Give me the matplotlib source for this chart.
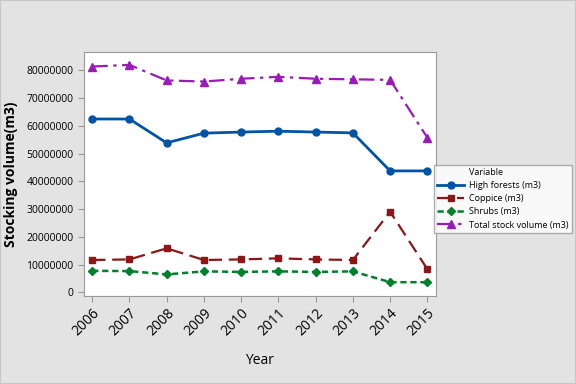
import matplotlib
matplotlib.use('Agg')
import matplotlib.pyplot as plt
from matplotlib.patches import Rectangle

years = [2006, 2007, 2008, 2009, 2010, 2011, 2012, 2013, 2014, 2015]
high_forests = [62.5, 62.5, 53.9, 57.4, 57.8, 58.1, 57.8, 57.5, 43.8, 43.8]
coppice = [11.7, 11.9, 15.9, 11.7, 11.9, 12.3, 11.9, 11.7, 29.1, 8.4]
shrubs = [7.8, 7.7, 6.5, 7.6, 7.4, 7.6, 7.4, 7.6, 3.7, 3.7]
total = [81.4, 82.0, 76.4, 76.0, 77.0, 77.7, 77.0, 76.8, 76.6, 55.8]
yticks = [0, 10, 20, 30, 40, 50, 60, 70, 80]

plt.rcParams['font.family'] = ['Open Sans', 'DejaVu Sans']

M = 1e6
bg = '#e3e3e3'
fig = plt.figure(figsize=(5.76, 3.84), dpi=100, facecolor=bg)
fig.patches.append(Rectangle((0, 0), 1, 1, transform=fig.transFigure,
                             fill=False, edgecolor='#c6c6c6', linewidth=1.5))
ax = fig.add_axes([0.1458, 0.229, 0.611, 0.636])

# empty entry so the legend header lines up with the labels
ax.plot([], [], ' ', label='Variable')
ax.plot(years, [v * M for v in high_forests], color='#0054a6', lw=2,
        marker='o', ms=5, label='High forests (m3)')
ax.plot(years, [v * M for v in coppice], color='#8e1616', lw=1.6,
        ls=(0, (6, 3)), marker='s', ms=5, label='Coppice (m3)')
ax.plot(years, [v * M for v in shrubs], color='#00802b', lw=1.8,
        ls=(0, (2.5, 1.5)), marker='D', ms=4.5, label='Shrubs (m3)')
ax.plot(years, [v * M for v in total], color='#9a1aba', lw=1.6,
        ls=(0, (7, 2.5, 1.5, 2.5)), marker='^', ms=6, label='Total stock volume (m3)')

ax.set_xlim(2006 - 0.22, 2015 + 0.23)
ax.set_ylim(-1.3 * M, 86.7 * M)
ax.set_xticks(years)
ax.set_xticklabels([str(y) for y in years], rotation=45, ha='right',
                   rotation_mode='anchor', fontsize=10)
ax.set_yticks([v * M for v in yticks])
ax.set_yticklabels([str(int(v * M)) for v in yticks], fontsize=7.5)
for s in ax.spines.values():
    s.set_color('#9a9a9a')
ax.tick_params(colors='#9a9a9a', labelcolor='black', length=4)
ax.tick_params(axis='x', pad=3)

ax.set_ylabel('Stocking volume(m3)', fontsize=10, fontweight='bold', labelpad=6)
ax.set_xlabel('Year', fontsize=10, labelpad=10)

leg = ax.legend(loc='upper left', bbox_to_anchor=(0.994, 0.538),
                fontsize=6.5, frameon=True, fancybox=False,
                borderaxespad=0, handlelength=3, labelspacing=0.45,
                borderpad=0.4, handletextpad=0.5)
leg.get_frame().set_edgecolor('#9a9a9a')
leg.get_frame().set_linewidth(1)

fig.savefig('out.png', dpi=100, facecolor=bg)
